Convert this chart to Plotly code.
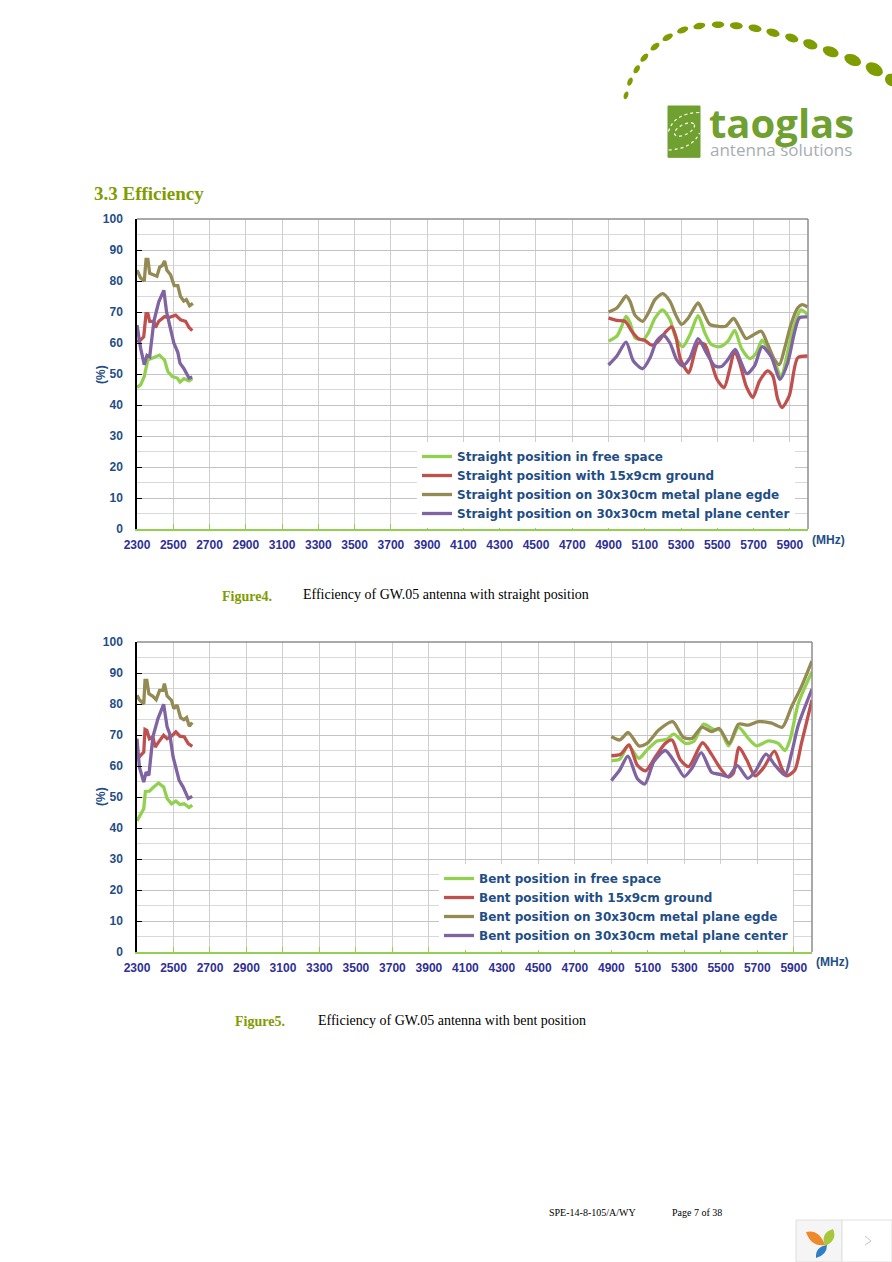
"""GW.05 efficiency page: two efficiency charts, straight and bent position."""
import math
import plotly.graph_objects as go

PAGE_W, PAGE_H = 892, 1262

GREEN = "#92d14f"
RED = "#c0504d"
OLIVE = "#948a54"
PURPLE = "#8064a2"
NAVY = "#1f4e86"
TICK_X = "#2f2f96"
LOGO = "#7f9c00"
LOGO_G = "#6fa030"

X_TICKS = list(range(2300, 6000, 200))
Y_TICKS = list(range(0, 101, 10))

# ── Figure 4, straight position ──────────────────────────────────────────────
NAMES_S = [
    "Straight position in free space",
    "Straight position with 15x9cm ground",
    "Straight position on 30x30cm metal plane egde",
    "Straight position on 30x30cm metal plane center",
]

s_free_lo_x = [2300, 2320, 2340, 2359, 2393, 2424, 2452, 2470, 2495, 2522, 2537, 2559, 2587, 2605]
s_free_lo_y = [45.7, 46.5, 49.2, 54.5, 55.3, 56.1, 54.5, 50.8, 49.2, 48.7, 47.4, 48.5, 47.8, 48.5]
s_gnd_lo_x = [2300, 2320, 2337, 2350, 2360, 2370, 2393, 2402, 2420, 2452, 2476, 2513, 2540, 2568, 2587, 2605]
s_gnd_lo_y = [60.4, 61, 62, 69.5, 69.5, 67, 67, 65, 67, 68.5, 68.2, 69, 67.5, 67, 65, 64]
s_edge_lo_x = [2300, 2320, 2340, 2350, 2360, 2370, 2390, 2410, 2425, 2440, 2452, 2465, 2485, 2505, 2525, 2540, 2558, 2572, 2590, 2608]
s_edge_lo_y = [83.5, 81, 80, 87, 87, 82.5, 82, 81.5, 84.5, 85, 86.5, 83.5, 82, 78.5, 78.5, 75, 73.5, 74, 72, 72.8]
s_center_lo_x = [2300, 2320, 2340, 2355, 2370, 2393, 2420, 2448, 2463, 2485, 2503, 2525, 2537, 2558, 2587, 2605]
s_center_lo_y = [65.8, 58.3, 53, 56, 55.5, 67, 73.3, 77, 70, 65, 60, 57, 53.5, 51.8, 48.7, 49]

s_free_hi_x = [4900, 4946, 4973, 4997, 5019, 5046, 5092, 5120, 5156, 5198, 5239, 5271, 5309, 5349, 5394, 5431,
               5467, 5513, 5559, 5596, 5632, 5678, 5715, 5747, 5788, 5825, 5852, 5879, 5916, 5962, 5998]
s_free_hi_y = [60.6, 62.2, 65.4, 68.6, 66.5, 61.7, 61.1, 63.3, 68, 70.7, 67.5, 61.7, 58.8, 62.7, 68.8, 63.3,
               59.5, 58.8, 60.6, 64.1, 58.4, 55, 56.8, 60.9, 56.8, 52.6, 48.8, 54.7, 64.3, 70.7, 69.1]
s_gnd_hi_x = [4900, 4946, 4992, 5028, 5065, 5101, 5138, 5175, 5211, 5248, 5271, 5297, 5343, 5370, 5394, 5431,
              5462, 5498, 5537, 5568, 5595, 5623, 5659, 5696, 5733, 5778, 5806, 5833, 5857, 5897, 5943, 5998]
s_gnd_hi_y = [68.1, 67.3, 67, 63.8, 61.4, 60.8, 59.3, 60.6, 63.3, 65.2, 62.2, 54.7, 50.4, 55.8, 60, 59.5,
              54.7, 48.3, 45.6, 51.5, 57.4, 53.6, 46.1, 42.4, 47.8, 51, 49.4, 41.9, 39.2, 43, 55.2, 55.8]
s_edge_hi_x = [4900, 4946, 4973, 4997, 5019, 5046, 5088, 5120, 5156, 5198, 5239, 5271, 5303, 5339, 5394, 5422,
               5458, 5504, 5546, 5590, 5623, 5659, 5696, 5742, 5778, 5815, 5842, 5870, 5906, 5943, 5967, 5998]
s_edge_hi_y = [70, 71.3, 73.4, 75.2, 73.4, 69, 67, 69.7, 74, 75.9, 73.4, 69, 66, 68, 72.9, 70,
               66, 65.4, 65.4, 67.9, 64.9, 61.4, 62.5, 63.8, 59.5, 54.7, 53, 58, 66, 71.3, 72.4, 71.6]
s_center_hi_x = [4900, 4946, 4997, 5037, 5088, 5129, 5165, 5202, 5239, 5275, 5309, 5349, 5394, 5440,
                 5486, 5522, 5559, 5599, 5632, 5663, 5705, 5747, 5797, 5846, 5888, 5925, 5952, 5998]
s_center_hi_y = [52.9, 55.8, 60.3, 54.2, 51.7, 55.2, 60.6, 62.5, 60, 54.7, 52.6, 55.2, 61.4, 56.8,
                 52.6, 52.4, 54.7, 57.9, 53.6, 50.1, 52.6, 58.8, 55.6, 48.3, 53.6, 63.3, 68.1, 68.4]

# ── Figure 5, bent position ──────────────────────────────────────────────────
NAMES_B = [
    "Bent position in free space",
    "Bent position with 15x9cm ground",
    "Bent position on 30x30cm metal plane egde",
    "Bent position on 30x30cm metal plane center",
]

b_free_lo_x = [2300, 2313, 2337, 2346, 2368, 2387, 2418, 2446, 2465, 2489, 2513, 2535, 2559, 2585, 2603]
b_free_lo_y = [42.3, 43.5, 46.2, 51.8, 51.9, 53, 54.5, 53.2, 49.5, 47.8, 48.7, 47.6, 47.8, 46.6, 47.4]
b_gnd_lo_x = [2300, 2313, 2337, 2344, 2354, 2368, 2387, 2400, 2418, 2446, 2465, 2489, 2513, 2535, 2559, 2581, 2603]
b_gnd_lo_y = [62.4, 63, 64.5, 71.8, 71.5, 68.8, 69.4, 66.1, 67.7, 69.9, 68.8, 69.6, 71, 69.6, 69.4, 67.2, 66.3]
b_edge_lo_x = [2300, 2313, 2337, 2344, 2354, 2365, 2387, 2405, 2424, 2442, 2450, 2465, 2489, 2502, 2520, 2539, 2557, 2572, 2587, 2603]
b_edge_lo_y = [82.8, 81.4, 80, 87.6, 87.6, 83.3, 82.5, 81.4, 84.4, 84.4, 86.6, 82.6, 81.2, 78.5, 79.6, 75.6, 74.9, 75.6, 72.8, 74]
b_center_lo_x = [2300, 2313, 2337, 2350, 2365, 2387, 2415, 2446, 2465, 2479, 2498, 2516, 2531, 2553, 2581, 2603]
b_center_lo_y = [68.8, 59.7, 54.8, 58, 57, 69.4, 75.3, 79.9, 72.6, 70.4, 62.9, 58.6, 55.4, 53.2, 49.5, 50.2]

b_free_hi_x = [4900, 4946, 4993, 5051, 5096, 5151, 5205, 5242, 5306, 5351, 5406, 5460, 5497, 5542, 5597, 5651,
               5697, 5761, 5815, 5852, 5879, 5925, 6000]
b_free_hi_y = [61.7, 62.2, 66.5, 62.5, 65.2, 68.1, 68.6, 70.3, 67.3, 67.9, 73.5, 71.8, 71.6, 66.5, 72.5, 68.9,
               66.5, 68.1, 67.3, 65, 68.4, 80.2, 90.4]
b_gnd_hi_x = [4900, 4951, 4997, 5042, 5087, 5142, 5196, 5233, 5278, 5324, 5400, 5451, 5497, 5542, 5569, 5600,
              5642, 5688, 5733, 5794, 5834, 5861, 5906, 5942, 6000]
b_gnd_hi_y = [63.3, 63.8, 66.8, 60.3, 58.4, 63, 67.3, 68.4, 62, 59.8, 67.5, 63.6, 59.3, 56.4, 57.7, 66,
              62, 56.8, 59.3, 64.8, 59.3, 56.8, 58.7, 67.3, 81.3]
b_edge_hi_x = [4900, 4946, 4993, 5051, 5096, 5160, 5236, 5296, 5342, 5396, 5451, 5491, 5546, 5597, 5651, 5706,
               5779, 5837, 5888, 5942, 6000]
b_edge_hi_y = [69.5, 68.4, 70.8, 66.5, 67.3, 71.6, 74.3, 69.2, 68.9, 72.5, 71.1, 72.1, 67.3, 73.5, 73.2, 74.3,
               73.8, 72.5, 79.1, 85.6, 93.9]
b_center_hi_x = [4900, 4946, 4991, 5042, 5084, 5133, 5196, 5251, 5300, 5342, 5393, 5451, 5497, 5542, 5591, 5648,
                 5688, 5748, 5797, 5852, 5888, 5925, 6000]
b_center_hi_y = [55.3, 58.7, 63.2, 56, 54.2, 61.4, 65, 60.9, 56.6, 59.3, 64.3, 57.9, 57.3, 56.6, 60.1, 56,
                 58.2, 63.8, 60.3, 57.1, 64.1, 73.2, 84.8]

# logo dots: centre x, centre y, half length, half width, tilt (page pixels)
logo_dot_x = [626, 630, 636.7, 644.3, 655, 667.7, 682.7, 699.3, 718, 736.3, 755, 773, 791.7, 810.3, 830.7, 852.7, 874.3, 891.7]
logo_dot_y = [95.3, 81.7, 69.3, 57.7, 46.7, 37.3, 30, 26, 24.7, 25.7, 28.3, 32.7, 38, 44.3, 51.7, 60, 69.3, 80]
logo_dot_a = [4, 4.3, 4.5, 5, 5.2, 5.7, 5.8, 6, 6.2, 6.4, 6.6, 6.8, 6.8, 7.4, 8.2, 8.8, 9.2, 7]
logo_dot_b = [2.2, 2.4, 2.6, 2.7, 2.8, 2.9, 3, 3.2, 3.3, 3.5, 3.6, 3.8, 4, 4.7, 5, 5.4, 6, 6]
logo_dot_t = [-72, -68, -58, -48, -38, -30, -22, -12, 0, 5, 12, 18, 20, 22, 22, 25, 30, 35]


def px(x):
    return x / PAGE_W


def py(y):
    return 1 - y / PAGE_H


def pt(x, y):
    return f"{px(x):.5f},{py(y):.5f}"


def ellipse_path(cx, cy, a, b, deg):
    t = math.radians(deg)
    pts = []
    for i in range(24):
        u = 2 * math.pi * i / 24
        ex, ey = a * math.cos(u), b * math.sin(u)
        pts.append(pt(cx + ex * math.cos(t) - ey * math.sin(t),
                      cy + ex * math.sin(t) + ey * math.cos(t)))
    return "M" + " L".join(pts) + " Z"


def page_text(x, y, text, size, color="#000000", family="Liberation Serif", anchor="left"):
    fig.add_annotation(text=text, xref="paper", yref="paper", x=px(x), y=py(y),
                       showarrow=False, xanchor=anchor, yanchor="middle",
                       font=dict(size=size, color=color, family=family))


def add_series(lo_x, lo_y, hi_x, hi_y, color, name, axis, legend):
    xa, ya = axis
    fig.add_trace(go.Scatter(x=lo_x, y=lo_y, mode="lines", xaxis=xa, yaxis=ya, showlegend=False,
                             line=dict(color=color, width=3.3)))
    fig.add_trace(go.Scatter(x=hi_x, y=hi_y, mode="lines", xaxis=xa, yaxis=ya, name=name, legend=legend,
                             line=dict(color=color, width=3.3, shape="spline", smoothing=0.7)))


fig = go.Figure()

add_series(s_free_lo_x, s_free_lo_y, s_free_hi_x, s_free_hi_y, GREEN, NAMES_S[0], ("x", "y"), "legend")
add_series(s_gnd_lo_x, s_gnd_lo_y, s_gnd_hi_x, s_gnd_hi_y, RED, NAMES_S[1], ("x", "y"), "legend")
add_series(s_edge_lo_x, s_edge_lo_y, s_edge_hi_x, s_edge_hi_y, OLIVE, NAMES_S[2], ("x", "y"), "legend")
add_series(s_center_lo_x, s_center_lo_y, s_center_hi_x, s_center_hi_y, PURPLE, NAMES_S[3], ("x", "y"), "legend")

add_series(b_free_lo_x, b_free_lo_y, b_free_hi_x, b_free_hi_y, GREEN, NAMES_B[0], ("x2", "y2"), "legend2")
add_series(b_gnd_lo_x, b_gnd_lo_y, b_gnd_hi_x, b_gnd_hi_y, RED, NAMES_B[1], ("x2", "y2"), "legend2")
add_series(b_edge_lo_x, b_edge_lo_y, b_edge_hi_x, b_edge_hi_y, OLIVE, NAMES_B[2], ("x2", "y2"), "legend2")
add_series(b_center_lo_x, b_center_lo_y, b_center_hi_x, b_center_hi_y, PURPLE, NAMES_B[3], ("x2", "y2"), "legend2")

x_style = dict(
    range=[2300, 6000], tickvals=X_TICKS, showgrid=True, gridcolor="#cfcfcf", gridwidth=1,
    zeroline=False, showline=True, linecolor=GREEN, linewidth=1.5, automargin=False,
    ticks="inside", ticklen=5, tickcolor=GREEN, tickwidth=1, ticklabelstandoff=4,
    tickfont=dict(size=12, color=TICK_X, family="Liberation Sans", weight="bold"),
)
y_style = dict(
    range=[0, 100], tickvals=Y_TICKS, showgrid=True, gridcolor="#c4c4c4", gridwidth=1,
    zeroline=False, showline=True, linecolor="#000000", linewidth=1.5, automargin=False,
    ticks="inside", ticklen=5, tickcolor="#000000", tickwidth=1, ticklabelstandoff=10,
    minor=dict(dtick=5, tick0=0, showgrid=True, gridcolor="#d9d9d9", gridwidth=1, ticks=""),
    tickfont=dict(size=12, color=NAVY, family="Liberation Sans", weight="bold"),
)

legend_style = dict(
    bgcolor="#ffffff", borderwidth=0, xanchor="left", yanchor="top", xref="paper", yref="paper",
    itemclick=False, itemdoubleclick=False,
    font=dict(size=12, color=NAVY, family="DejaVu Sans", weight="bold"),
)

fig.update_layout(
    width=PAGE_W, height=PAGE_H,
    margin=dict(l=0, r=0, t=0, b=0),
    paper_bgcolor="#ffffff", plot_bgcolor="#ffffff",
    xaxis=dict(domain=[px(137), px(808)], anchor="y", **x_style),
    yaxis=dict(domain=[py(529), py(219)], anchor="x", **y_style),
    xaxis2=dict(domain=[px(137), px(812)], anchor="y2", **x_style),
    yaxis2=dict(domain=[py(952), py(642)], anchor="x2", **y_style),
    legend=dict(x=px(417), y=py(442), **legend_style),
    legend2=dict(x=px(439), y=py(864), **legend_style),
)

shapes = []

# top and right chart borders
for x0, x1, y0, y1 in [(137, 808, 219, 529), (137, 812, 642, 952)]:
    shapes.append(dict(type="line", xref="paper", yref="paper", x0=px(x0), x1=px(x1), y0=py(y0), y1=py(y0),
                       line=dict(color="#8c8c8c", width=1.5)))
    shapes.append(dict(type="line", xref="paper", yref="paper", x0=px(x1), x1=px(x1), y0=py(y0), y1=py(y1),
                       line=dict(color="#8c8c8c", width=1.5)))

# logo arc
for cx, cy, a, b, t in zip(logo_dot_x, logo_dot_y, logo_dot_a, logo_dot_b, logo_dot_t):
    shapes.append(dict(type="path", xref="paper", yref="paper", path=ellipse_path(cx, cy, a, b, t),
                       fillcolor=LOGO, line=dict(width=0)))

# logo badge
shapes.append(dict(type="rect", xref="paper", yref="paper", x0=px(668), x1=px(700), y0=py(106), y1=py(157.3),
                   fillcolor=LOGO_G, line=dict(color=LOGO_G, width=1)))
dots = dict(color="#ffffff", width=1.2, dash="dot")
shapes.append(dict(type="path", xref="paper", yref="paper", path=ellipse_path(684.5, 129.5, 11, 5, -27),
                   line=dots))
shapes.append(dict(type="path", xref="paper", yref="paper",
                   path=f"M{pt(668.5, 131.5)} Q{pt(674, 113)} {pt(699.5, 112.5)}", line=dots))
shapes.append(dict(type="path", xref="paper", yref="paper",
                   path=f"M{pt(668.5, 150)} Q{pt(692, 149)} {pt(699.5, 133)}", line=dots))

# viewer badge, bottom right
shapes.append(dict(type="rect", xref="paper", yref="paper", x0=px(796), x1=px(842), y0=py(1220), y1=py(1262),
                   fillcolor="#f5f5f5", line=dict(color="#e0e0e0", width=1)))
shapes.append(dict(type="rect", xref="paper", yref="paper", x0=px(842), x1=px(892), y0=py(1220), y1=py(1262),
                   fillcolor="#ffffff", line=dict(color="#e0e0e0", width=1)))
shapes.append(dict(type="path", xref="paper", yref="paper", fillcolor="#ef8a2c", line=dict(width=0),
                   path=f"M{pt(806, 1232)} Q{pt(819, 1229)} {pt(825, 1245)} Q{pt(811, 1247)} {pt(806, 1232)} Z"))
shapes.append(dict(type="path", xref="paper", yref="paper", fillcolor="#a5c83c", line=dict(width=0),
                   path=f"M{pt(825, 1246)} Q{pt(820, 1233)} {pt(833, 1229)} Q{pt(838, 1240)} {pt(825, 1246)} Z"))
shapes.append(dict(type="path", xref="paper", yref="paper", fillcolor="#2f7fc8", line=dict(width=0),
                   path=f"M{pt(827, 1245)} Q{pt(815, 1247)} {pt(816, 1258)} Q{pt(827, 1255)} {pt(827, 1245)} Z"))
shapes.append(dict(type="path", xref="paper", yref="paper", line=dict(color="#c4c4c4", width=1),
                   path=f"M{pt(865, 1236)} L{pt(871, 1241)} L{pt(865, 1245)}"))

fig.update_layout(shapes=shapes)

# page text
page_text(92, 194, "<b>3.3 Efficiency</b>", 19, LOGO)
page_text(220, 596, "<b>Figure4.</b>", 14, LOGO)
page_text(301, 595, "Efficiency of GW.05 antenna with straight position", 14)
page_text(233, 1021, "<b>Figure5.</b>", 14, LOGO)
page_text(316, 1020, "Efficiency of GW.05 antenna with bent position", 14)
page_text(547, 1212, "SPE-14-8-105/A/WY", 10)
page_text(670, 1212, "Page 7 of 38", 10)
page_text(707, 122, "<b>taoglas</b>", 40, LOGO_G, "Open Sans")
page_text(708, 150, "antenna solutions", 17, "#a7aeb2", "Open Sans")
page_text(810, 540, "<b>(MHz)</b>", 12, NAVY, "Liberation Sans")
page_text(814, 962, "<b>(MHz)</b>", 12, NAVY, "Liberation Sans")

for y in (375, 797):
    fig.add_annotation(text="<b>(%)</b>", xref="paper", yref="paper", x=px(101), y=py(y), showarrow=False,
                       xanchor="center", yanchor="middle", textangle=-90,
                       font=dict(size=12, color=NAVY, family="Liberation Sans"))

fig.write_html("out.html", config=dict(displayModeBar=False),
               post_script="document.body.style.margin='0';document.body.style.overflow='hidden';")
